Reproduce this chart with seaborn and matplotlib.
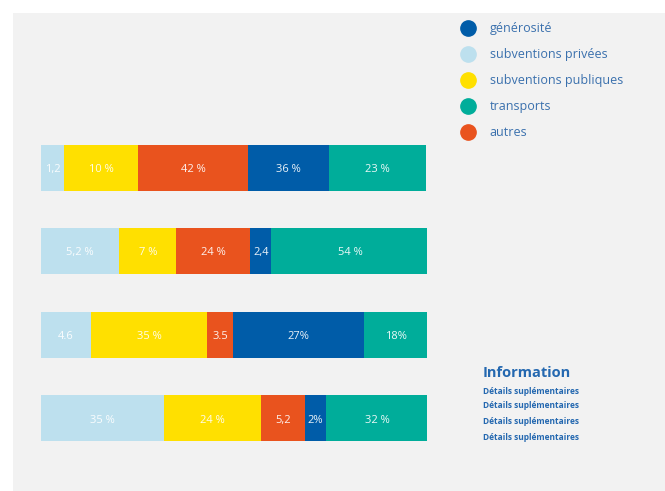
import numpy as np
import pandas as pd
import matplotlib
matplotlib.use("Agg")
import matplotlib.pyplot as plt
from matplotlib.lines import Line2D
from matplotlib.patches import Rectangle
import seaborn as sns

sns.set_theme(style="white")
plt.rcParams['font.family'] = ['Open Sans', 'DejaVu Sans']

# données (largeurs, en % de la barre)
rows = ['1', '2', '3', '4']
privees = [6.0, 20.3, 13.0, 31.8]
publiques = [19.1, 14.7, 29.9, 25.1]
autres = [28.5, 19.2, 6.9, 11.4]
generosite = [21.0, 5.4, 33.7, 5.5]
transports = [25.1, 40.7, 16.7, 26.3]

# textes affichés dans les segments
lab_privees = ['1,2', '5,2 %', '4.6', '35 %']
lab_publiques = ['10 %', '7 %', '35 %', '24 %']
lab_autres = ['42 %', '24 %', '3.5', '5,2']
lab_generosite = ['36 %', '2,4', '27%', '2%']
lab_transports = ['23 %', '54 %', '18%', '32 %']

legend_order = ['générosité', 'subventions privées', 'subventions publiques', 'transports', 'autres']
info_lines = ['Détails suplémentaires'] * 4

colors = {
    'subventions privées': '#bde0ee',
    'subventions publiques': '#ffe000',
    'autres': '#e9531e',
    'générosité': '#005ca8',
    'transports': '#00ad9a',
}

stack = [
    ('subventions privées', privees, lab_privees),
    ('subventions publiques', publiques, lab_publiques),
    ('autres', autres, lab_autres),
    ('générosité', generosite, lab_generosite),
    ('transports', transports, lab_transports),
]

fig = plt.figure(figsize=(6.65, 4.91), dpi=100)
fig.patch.set_facecolor('white')
fig.add_artist(Rectangle((13 / 665, 0), 1, 1 - 13 / 491, transform=fig.transFigure,
                         facecolor='#f2f2f2', edgecolor='none', zorder=-10))

ax = fig.add_axes([41 / 665, 0.0625, 386.5 / 665, 0.6815])
ax.set_facecolor('none')

# cumul pour empiler
vals = np.array([s[1] for s in stack])
cum = vals.cumsum(axis=0)
for i in reversed(range(len(stack))):
    name = stack[i][0]
    sns.barplot(x=cum[i], y=rows, orient='h', color=colors[name], saturation=1,
                width=0.55, linewidth=0, ax=ax)

for i, (name, v, labs) in enumerate(stack):
    start = cum[i] - vals[i]
    for j, lab in enumerate(labs):
        ax.text(start[j] + vals[i][j] / 2, j + 0.02, lab, ha='center', va='center',
                color='white', alpha=0.92, fontsize=8)

ax.set_xlim(0, 100)
ax.set_ylim(3.5, -0.5)
ax.axis('off')

handles = [Line2D([], [], marker='o', linestyle='', markersize=11,
                  markerfacecolor=colors[n], markeredgecolor=colors[n]) for n in legend_order]
fig.legend(handles, legend_order, loc='upper left', bbox_to_anchor=(462 / 665, 1 - 22 / 491),
           frameon=False, fontsize=9, labelcolor='#3a70ad', handlelength=1.0,
           handletextpad=1.2, labelspacing=1.05, borderpad=0, borderaxespad=0)

fig.text(483 / 665, 1 - 373 / 491, 'Information', fontsize=10.5, fontweight='bold',
         color='#2468b0', va='center', ha='left')
for y, line in zip([391, 406, 421, 438], info_lines):
    fig.text(483 / 665, 1 - y / 491, line, fontsize=6, fontweight='bold',
             color='#2468b0', va='center', ha='left')

fig.savefig('out.png', dpi=100)
